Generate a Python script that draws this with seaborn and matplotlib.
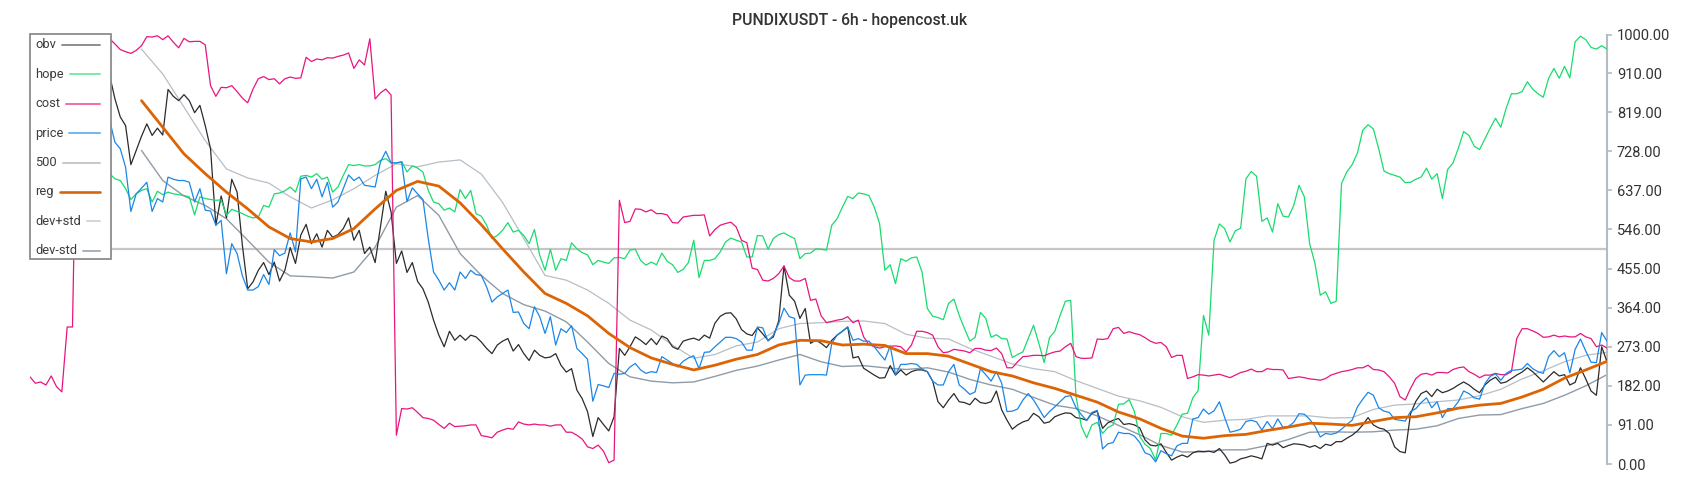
import numpy as np
import matplotlib
matplotlib.use("Agg")
import matplotlib.pyplot as plt
from matplotlib.lines import Line2D
from matplotlib.patches import Rectangle
import seaborn as sns

# ---------- data (one value per 6h candle) ----------
obv = [
    880, 910, 935, 920, 950, 960, 945, 965, 955, 940, 950, 930, 940, 925, 915, 905,
    850, 808, 788, 697, 730, 763, 792, 765, 782, 766, 872, 856, 846, 860, 846, 818, 835, 788, 734, 556,
    624, 573, 663, 633, 509, 408, 424, 451, 469, 441, 470, 426, 451, 504,
    467, 533, 558, 513, 536, 505, 544, 528, 534, 548, 573, 521, 544, 490, 505, 469, 552, 635, 587, 467,
    496, 446, 469, 425, 408, 377, 335, 300, 273, 309, 288, 300, 288, 300, 296, 284, 269, 257, 277, 286,
    292, 263, 278, 257, 241, 265, 253, 247,
    249, 257, 230, 214, 222, 172, 152, 122, 64, 108, 92, 77, 110, 269, 253, 273, 296, 288, 278, 292,
    278, 298, 292, 273, 267, 286, 290, 293, 288, 300, 293, 328, 344, 351, 352, 338, 313, 303, 299, 317,
    303, 288, 296, 333, 461, 393, 379, 339, 362,
    281, 288, 281, 271, 288, 300, 309, 319, 247, 250, 223, 215, 207, 200, 201, 229, 207, 219, 207, 215,
    219, 219, 215, 193, 145, 131, 149, 164, 145, 143, 138, 153, 143, 141, 145, 170, 126, 102, 81, 91,
    98, 102, 118, 110, 95, 98, 110, 115, 119, 118,
    108, 106, 102, 118, 123, 83, 96, 102, 106, 92, 94, 91, 84, 56, 44, 42, 47, 27, 9, 16,
    21, 16, 26, 30, 29, 30, 27, 36, 21, 2, 5, 12, 15, 19, 16, 12, 48, 44, 48, 38,
    43, 47, 46, 44, 39, 43, 36, 46,
    43, 52, 52, 60, 67, 77, 91, 108, 91, 84, 81, 71, 40, 29, 26, 117, 146, 164, 170, 157,
    174, 166, 170, 176, 184, 191, 184, 174, 166, 184, 195, 202, 188, 191, 199, 207, 214, 224, 215, 203,
    191, 203, 215, 205, 208, 184, 190, 224, 198, 170, 160, 273, 238,
]

hope = [
    700, 690, 705, 695, 680, 690, 700, 685, 690, 680, 670, 685, 690, 680, 675, 676,
    664, 660, 641, 616, 629, 637, 641, 610, 635, 627, 633, 629, 627, 625, 622, 580, 622, 618, 616, 614,
    615, 579, 593, 588, 583, 577, 573, 575, 602, 598, 629, 631, 636, 645,
    633, 670, 672, 668, 676, 663, 668, 633, 645, 672, 697, 695, 697, 694, 694, 697, 707, 711, 701, 701,
    704, 680, 694, 689, 680, 637, 610, 606, 591, 596, 587, 639, 618, 637, 583, 577, 556, 525, 532, 544,
    562, 540, 544, 532, 513, 546, 486, 451, 500,
    451, 478, 474, 515, 501, 492, 487, 464, 474, 470, 467, 480, 481, 478, 498, 500, 474, 463, 470, 464,
    491, 472, 464, 446, 453, 469, 521, 434, 474, 474, 478, 494, 517, 526, 521, 517, 482, 482, 532, 531,
    500, 525, 534, 538, 531, 525, 478, 490, 491, 501,
    500, 498, 556, 571, 598, 623, 618, 631, 629, 625, 598, 560, 451, 464, 420, 478, 472, 480, 482, 447,
    362, 344, 341, 336, 374, 384, 346, 315, 286, 295, 353, 339, 295, 301, 292, 291, 248, 255, 261, 292,
    323, 281, 236, 294, 309, 346, 379, 381,
    157, 88, 61, 91, 97, 71, 85, 91, 139, 140, 150, 122, 64, 46, 36, 9, 71, 71, 67, 91,
    116, 118, 154, 171, 346, 300, 521, 559, 548, 517, 543, 549, 664, 681, 670, 565, 573, 540, 606, 577,
    575, 602, 649, 622, 513, 467, 393, 401,
    374, 379, 653, 680, 697, 724, 777, 790, 780, 734, 682, 676, 672, 668, 655, 656, 663, 668, 689, 663,
    676, 618, 686, 701, 735, 774, 765, 740, 732, 757, 782, 805, 784, 828, 862, 862, 867, 890, 873, 862,
    854, 898, 921, 898, 926, 899, 983, 996, 988, 970, 966, 974, 966,
]

cost = [
    203, 188, 191, 184, 205, 180, 168, 319, 319, 985, 995, 990, 1000, 992, 985, 990,
    978, 965, 960, 956, 963, 974, 995, 994, 997, 988, 997, 982, 969, 991, 983, 984, 984, 976, 881, 856,
    877, 876, 881, 867, 852, 841, 873, 897, 902, 895, 897, 885, 897, 901,
    898, 899, 947, 937, 943, 941, 946, 945, 949, 952, 957, 921, 941, 929, 990, 850, 864, 873, 859, 67,
    129, 128, 131, 120, 108, 106, 102, 92, 83, 95, 87, 88, 89, 91, 91, 66, 64, 61, 74, 79,
    83, 81, 98, 93, 91, 93, 91, 91,
    88, 91, 91, 74, 74, 67, 58, 40, 36, 44, 30, 3, 9, 614, 562, 565, 594, 593, 587, 592,
    583, 583, 580, 562, 561, 575, 577, 579, 579, 580, 531, 546, 556, 560, 563, 552, 521, 515, 456, 453,
    428, 426, 432, 443, 461, 434, 426, 426, 432,
    381, 384, 345, 329, 332, 335, 337, 343, 329, 335, 296, 278, 273, 270, 273, 274, 275, 273, 261, 277,
    309, 309, 306, 300, 273, 259, 261, 267, 265, 263, 259, 269, 269, 265, 264, 270, 257, 224, 224, 238,
    250, 251, 253, 253, 252, 257, 261, 263, 273, 281,
    250, 246, 246, 247, 291, 290, 292, 315, 318, 304, 308, 304, 301, 294, 286, 281, 283, 273, 248, 253,
    253, 199, 203, 208, 207, 205, 207, 209, 205, 201, 207, 213, 216, 221, 215, 215, 222, 220, 220, 219,
    199, 201, 203, 201, 198, 197, 195, 199,
    207, 211, 215, 217, 220, 224, 224, 230, 220, 219, 215, 203, 188, 157, 149, 176, 199, 209, 211, 207,
    213, 213, 212, 220, 224, 226, 215, 209, 201, 207, 207, 211, 208, 208, 215, 292, 315, 315, 310, 304,
    295, 296, 300, 296, 298, 296, 296, 304, 296, 292, 273, 277, 270,
]

price = [
    820, 810, 830, 815, 800, 810, 790, 805, 820, 810, 795, 800, 810, 805, 800, 800,
    749, 734, 691, 588, 629, 642, 656, 588, 618, 610, 668, 663, 660, 660, 656, 610, 641, 591, 589, 556,
    567, 443, 513, 490, 438, 405, 405, 413, 441, 418, 499, 485, 491, 538,
    494, 664, 668, 641, 663, 622, 656, 598, 610, 641, 673, 660, 668, 649, 647, 645, 703, 728, 701, 701,
    703, 611, 643, 629, 616, 525, 447, 428, 405, 422, 405, 447, 432, 451, 441, 439, 412, 377, 389, 397,
    405, 353, 354, 327, 315, 366, 343, 304,
    343, 277, 315, 306, 322, 269, 257, 244, 146, 185, 182, 178, 211, 209, 211, 226, 234, 219, 211, 215,
    213, 250, 242, 234, 226, 239, 247, 252, 222, 260, 261, 273, 284, 295, 295, 292, 284, 265, 265, 319,
    317, 286, 300, 327, 363, 343, 339, 184, 207,
    208, 208, 208, 207, 281, 300, 309, 319, 288, 292, 286, 286, 273, 257, 242, 275, 208, 232, 232, 234,
    232, 221, 215, 193, 184, 184, 215, 232, 184, 174, 162, 168, 222, 208, 193, 215, 188, 122, 123, 128,
    149, 164, 149, 129, 108, 122, 133, 145, 157, 159,
    131, 115, 101, 120, 125, 35, 47, 50, 74, 71, 71, 65, 50, 26, 21, 5, 31, 24, 19, 42,
    48, 48, 105, 108, 128, 116, 124, 145, 108, 74, 77, 81, 99, 102, 98, 79, 99, 82, 105, 85,
    87, 97, 117, 116, 104, 88, 63, 71,
    69, 72, 81, 92, 102, 133, 151, 167, 160, 131, 123, 120, 104, 102, 100, 122, 129, 143, 154, 131,
    145, 108, 129, 129, 145, 170, 164, 154, 151, 187, 204, 210, 195, 211, 218, 219, 221, 234, 222, 215,
    211, 250, 264, 250, 259, 212, 267, 291, 263, 237, 236, 306, 286,
]

level_500 = 500

# rolling lines start at candle 21, read every 4 candles
band_start, band_step = 21, 4
reg = [
    846, 784, 722, 676, 633, 594, 552, 525,
    517, 525, 548, 594, 637, 658, 647, 608, 557, 501, 447, 397,
    374, 345, 304, 271, 247, 232, 219, 230, 244, 255, 277, 288,
    287, 277, 279, 276, 257, 257, 251, 233, 215, 205, 189, 176,
    160, 144, 121, 105, 83, 65, 60, 66, 69, 78, 86, 95,
    93, 90, 99, 108, 110, 119, 130, 137, 141, 156, 174, 200, 219, 239,
]
dev_plus = [
    966, 908, 831, 753, 687, 666, 654, 622,
    596, 615, 641, 672, 699, 692, 703, 708, 675, 609, 525, 439,
    428, 405, 374, 335, 312, 277, 246, 255, 275, 284, 315, 327,
    329, 332, 333, 327, 302, 293, 291, 269, 251, 233, 222, 215,
    194, 176, 158, 147, 132, 110, 97, 102, 104, 112, 112, 112,
    107, 108, 127, 137, 140, 145, 149, 159, 174, 198, 217, 238, 253, 260,
]
dev_minus = [
    730, 660, 624, 602, 571, 521, 470, 438,
    436, 433, 447, 505, 598, 625, 579, 490, 439, 397, 371, 356,
    331, 284, 234, 203, 193, 189, 191, 204, 218, 228, 242, 255,
    238, 227, 229, 224, 220, 224, 214, 197, 184, 174, 155, 137,
    129, 112, 90, 68, 43, 28, 28, 33, 33, 43, 57, 74,
    75, 74, 75, 79, 81, 89, 106, 114, 115, 129, 141, 160, 182, 208,
]

tick_vals = [0, 91, 182, 273, 364, 455, 546, 637, 728, 819, 910, 1000]
legend_names = ["obv", "hope", "cost", "price", "500", "reg", "dev+std", "dev-std"]
title = "PUNDIXUSDT - 6h - hopencost.uk"

# ---------- style ----------
sns.set_theme(style="white")
plt.rcParams["font.family"] = ["Roboto", "DejaVu Sans"]

W, H = 1700, 500
fig = plt.figure(figsize=(17, 5), dpi=100)
ax = fig.add_axes([30 / W, 36 / H, 1577 / W, 429.5 / H])

candles = np.arange(len(obv))
band_x = np.arange(band_start, band_start + band_step * len(reg), band_step)

ax.axhline(level_500, color="#c6c6c6", lw=1.6, zorder=1)
sns.lineplot(x=band_x, y=dev_plus, ax=ax, color="#b6bec6", lw=0.9, zorder=2)
sns.lineplot(x=band_x, y=dev_minus, ax=ax, color="#8f9ba7", lw=1.0, zorder=2)
sns.lineplot(x=candles, y=obv, ax=ax, color="#2b2b2b", lw=0.9, zorder=3)
sns.lineplot(x=candles, y=hope, ax=ax, color="#19db6e", lw=0.9, zorder=3)
sns.lineplot(x=candles, y=cost, ax=ax, color="#e8157d", lw=0.9, zorder=3)
sns.lineplot(x=candles, y=price, ax=ax, color="#1a86e8", lw=0.9, zorder=3)
sns.lineplot(x=band_x, y=reg, ax=ax, color="#dc6405", lw=2.0, zorder=4)

ax.set_xlim(0, len(obv) - 1)
ax.set_ylim(0, 1000)
ax.set_xticks([])
ax.set_yticks(tick_vals)
ax.set_yticklabels([f"{v:.2f}" for v in tick_vals])
ax.yaxis.tick_right()
ax.tick_params(axis="y", direction="out", length=3.6, width=1.2, color="#b3bbc3",
               pad=3.5, labelsize=10.5, labelcolor="#333333")
ax.set_xlabel("")
ax.set_ylabel("")
for s in ["left", "top", "bottom"]:
    ax.spines[s].set_visible(False)
ax.spines["right"].set_color("#b3bbc3")
ax.spines["right"].set_linewidth(1.5)

fig.suptitle(title, x=0.5, y=1 - 21 / H, va="center", fontsize=11.3,
             fontweight="medium", color="#333333")

# ---------- legend: label left, line right ----------
legend_colors = ["#858585", "#7ee8a8", "#f06aaa", "#70b5ee", "#c8c8c8", "#d8650a", "#d2d6da", "#a6b0ba"]
legend_widths = [1.3, 1.4, 1.4, 1.4, 1.4, 1.9, 1.4, 1.4]

fig.canvas.draw()
renderer = fig.canvas.get_renderer()
fig.add_artist(Rectangle((30 / W, 1 - 259 / H), 81 / W, 225 / H, transform=fig.transFigure,
                         facecolor="white", edgecolor="#8c8c8c", lw=1.3, zorder=10))
for k, name in enumerate(legend_names):
    yk = 1 - (45 + 29.4 * k) / H
    t = fig.text(35 / W, yk, name, ha="left", va="center", fontsize=9.3,
                 color="#3c3c3c", zorder=11)
    x_end = t.get_window_extent(renderer).x1
    fig.add_artist(Line2D([(x_end + 6) / W, 100 / W], [yk, yk], transform=fig.transFigure,
                          color=legend_colors[k], lw=legend_widths[k], zorder=11))

fig.savefig("out.png", dpi=100)
